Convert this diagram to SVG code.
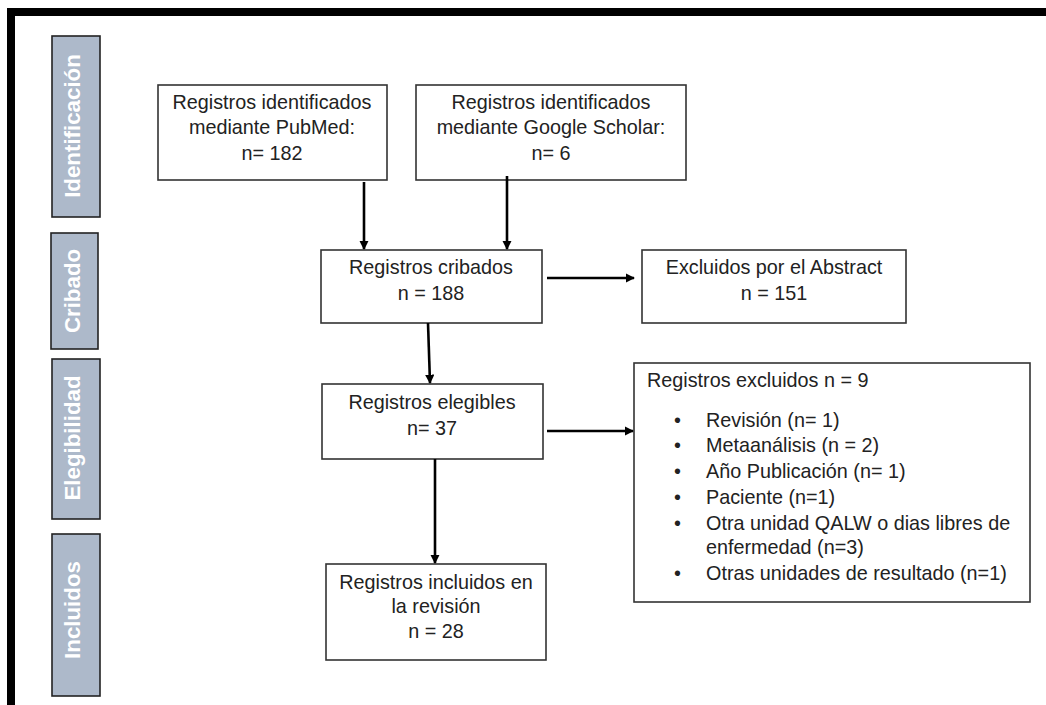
<svg xmlns="http://www.w3.org/2000/svg" width="1046" height="705" viewBox="0 0 1046 705">
<defs>
<marker id="ah" viewBox="0 0 10 10" refX="9" refY="5" markerWidth="3.6" markerHeight="3.6" orient="auto" markerUnits="strokeWidth">
<path d="M0,0 L10,5 L0,10 z" fill="#000"/>
</marker>
<style>
.box{fill:#fff;stroke:#333;stroke-width:1.6}
.t{font-family:"Liberation Sans",Arial,sans-serif;font-size:19.8px;fill:#222}
.c{text-anchor:middle}
.side rect{fill:#adb9ca;stroke:#222;stroke-width:1.6}
.side text{font-family:"Liberation Sans",Arial,sans-serif;font-size:22.3px;font-weight:bold;fill:#fff;text-anchor:middle}
.con line{stroke:#000;stroke-width:2.6;marker-end:url(#ah)}
</style>
</defs>
<rect width="1046" height="705" fill="#fff"/>
<rect x="7" y="8" width="1039" height="8" fill="#000"/>
<rect x="7" y="8" width="8" height="697" fill="#000"/>

<g id="stage-identificacion" class="side"><rect x="52" y="36" width="48" height="181"/><text transform="translate(80,126) rotate(-90)">Identificación</text></g>
<g id="stage-cribado" class="side"><rect x="51" y="233" width="47" height="116"/><text transform="translate(80,291) rotate(-90)">Cribado</text></g>
<g id="stage-elegibilidad" class="side"><rect x="52" y="359" width="48" height="160"/><text transform="translate(80,438) rotate(-90)">Elegibilidad</text></g>
<g id="stage-incluidos" class="side"><rect x="52" y="534" width="48" height="162"/><text transform="translate(80,610) rotate(-90)">Incluidos</text></g>

<g id="pubmed"><rect class="box" x="158" y="85" width="229" height="95"/>
<text class="t c" x="272" y="109">Registros identificados</text>
<text class="t c" x="272" y="134">mediante PubMed:</text>
<text class="t c" x="272" y="160">n= 182</text></g>

<g id="scholar"><rect class="box" x="416" y="85" width="270" height="95"/>
<text class="t c" x="551" y="109">Registros identificados</text>
<text class="t c" x="551" y="134">mediante Google Scholar:</text>
<text class="t c" x="551" y="160">n= 6</text></g>

<g id="cribados"><rect class="box" x="321" y="250" width="221" height="73"/>
<text class="t c" x="431" y="274">Registros cribados</text>
<text class="t c" x="431" y="300">n = 188</text></g>

<g id="abstract"><rect class="box" x="642" y="250" width="264" height="73"/>
<text class="t c" x="774" y="274">Excluidos por el Abstract</text>
<text class="t c" x="774" y="300">n = 151</text></g>

<g id="elegibles"><rect class="box" x="322" y="384" width="221" height="75"/>
<text class="t c" x="432" y="409">Registros elegibles</text>
<text class="t c" x="432" y="435">n= 37</text></g>

<g id="excluidos"><rect class="box" x="634" y="363" width="396" height="239"/>
<text class="t" x="647" y="387">Registros excluidos n = 9</text>
<g class="t">
<text x="674" y="427">•</text><text x="706" y="427">Revisión (n= 1)</text>
<text x="674" y="452">•</text><text x="706" y="452">Metaanálisis (n = 2)</text>
<text x="674" y="478">•</text><text x="706" y="478">Año Publicación (n= 1)</text>
<text x="674" y="504">•</text><text x="706" y="504">Paciente (n=1)</text>
<text x="674" y="530">•</text><text x="706" y="530">Otra unidad QALW o dias libres de</text>
<text x="706" y="554">enfermedad (n=3)</text>
<text x="674" y="580">•</text><text x="706" y="580">Otras unidades de resultado (n=1)</text>
</g></g>

<g id="incluidos"><rect class="box" x="326" y="564" width="220" height="96"/>
<text class="t c" x="436" y="589">Registros incluidos en</text>
<text class="t c" x="436" y="613">la revisión</text>
<text class="t c" x="436" y="638">n = 28</text></g>

<g id="connectors" class="con">
<line x1="364" y1="182" x2="364" y2="249"/>
<line x1="507" y1="176" x2="507" y2="249"/>
<line x1="547" y1="278" x2="634" y2="278"/>
<line x1="428" y1="323" x2="430" y2="383"/>
<line x1="547" y1="431" x2="633" y2="431"/>
<line x1="435" y1="459" x2="435" y2="563"/>
</g>
</svg>
